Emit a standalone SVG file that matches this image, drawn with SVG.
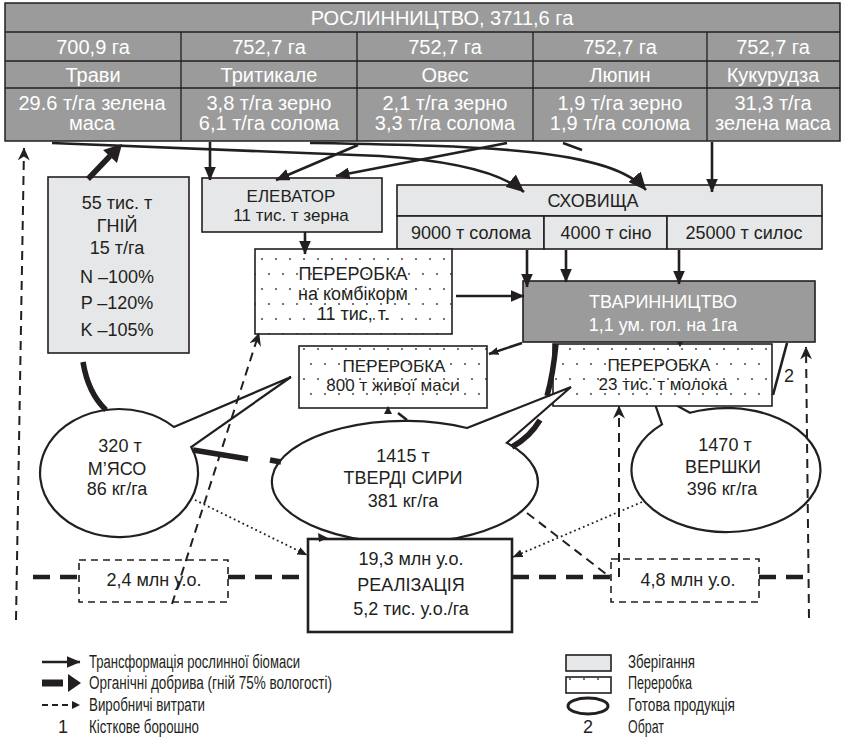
<svg xmlns="http://www.w3.org/2000/svg" width="843" height="744" viewBox="0 0 843 744">
<style>
.tbl{fill:#9b9b9b;stroke:#231f20;stroke-width:1.5}
.tl{fill:none;stroke:#231f20;stroke-width:1.3}
.tt{font-family:"Liberation Sans",Arial,sans-serif;font-size:20px;fill:#fff;text-anchor:middle}
.t{font-family:"Liberation Sans",Arial,sans-serif;font-size:18px;fill:#231f20;text-anchor:middle}
.s{font-size:17px}
.w{fill:#fff}
.store{fill:#e6e7e8;stroke:#231f20;stroke-width:1.6}
.proc{fill:url(#dots);stroke:#231f20;stroke-width:1.6}
.prod{fill:#fff;stroke:#231f20;stroke-width:2.2}
.dark{fill:#9b9b9b;stroke:#231f20;stroke-width:1.6}
.sol{fill:none;stroke:#231f20;stroke-width:2.6}
.thk{fill:none;stroke:#231f20;stroke-width:5.5}
.dsh{fill:none;stroke:#231f20;stroke-width:2;stroke-dasharray:9 6}
.dshT{fill:none;stroke:#231f20;stroke-width:4.5;stroke-dasharray:17 10}
.dot{fill:none;stroke:#231f20;stroke-width:1.8;stroke-dasharray:1.8 3}
.blk{fill:#231f20}
.lg{font-family:"Liberation Sans",Arial,sans-serif;font-size:18px;fill:#231f20}
</style>
<defs>
<pattern id="dots" patternUnits="userSpaceOnUse" width="14" height="30">
<rect width="14" height="30" fill="#fff"/>
<circle cx="3" cy="4" r="1.1" fill="#555"/>
<circle cx="10" cy="19" r="1.1" fill="#555"/>
</pattern>
<marker id="ah" viewBox="0 0 14 12" refX="13.5" refY="6" markerWidth="14" markerHeight="12" markerUnits="userSpaceOnUse" orient="auto"><path d="M0,0 L14,6 L0,12 z" fill="#231f20"/></marker>
<marker id="ahL" viewBox="0 0 18 16" refX="17.5" refY="8" markerWidth="18" markerHeight="16" markerUnits="userSpaceOnUse" orient="auto"><path d="M0,0 L18,8 L0,16 z" fill="#231f20"/></marker>
<marker id="ahD" viewBox="0 0 13 12" refX="12.5" refY="6" markerWidth="13" markerHeight="12" markerUnits="userSpaceOnUse" orient="auto"><path d="M0,0 L13,6 L0,12 L4,6 z" fill="#231f20"/></marker>
<marker id="ahS" viewBox="0 0 10 8" refX="9.5" refY="4" markerWidth="10" markerHeight="8" markerUnits="userSpaceOnUse" orient="auto"><path d="M0,0 L10,4 L0,8 z" fill="#231f20"/></marker>
</defs>

<g id="roslynnytstvo">
<rect class="tbl" x="5" y="3" width="835" height="138"/>
<path class="tl" d="M5,32H840M5,61H840M5,88H840M181,32V141M357,32V141M533,32V141M707,32V141"/>
<text class="tt" x="442" y="25">РОСЛИННИЦТВО, 3711,6 га</text>
<text class="tt" x="93" y="54">700,9 га</text>
<text class="tt" x="269" y="54">752,7 га</text>
<text class="tt" x="445" y="54">752,7 га</text>
<text class="tt" x="620" y="54">752,7 га</text>
<text class="tt" x="773" y="54">752,7 га</text>
<text class="tt" x="93" y="82">Трави</text>
<text class="tt" x="269" y="82">Тритикале</text>
<text class="tt" x="445" y="82">Овес</text>
<text class="tt" x="620" y="82">Люпин</text>
<text class="tt" x="773" y="82">Кукурудза</text>
<text class="tt" x="92" y="110">29.6 т/га зелена</text>
<text class="tt" x="92" y="130">маса</text>
<text class="tt" x="269" y="110">3,8 т/га зерно</text>
<text class="tt" x="269" y="130">6,1 т/га солома</text>
<text class="tt" x="445" y="110">2,1 т/га зерно</text>
<text class="tt" x="445" y="130">3,3 т/га солома</text>
<text class="tt" x="620" y="110">1,9 т/га зерно</text>
<text class="tt" x="620" y="130">1,9 т/га солома</text>
<text class="tt" x="773" y="110">31,3 т/га</text>
<text class="tt" x="773" y="130">зелена маса</text>
</g>

<g id="gnii">
<rect class="store" x="48" y="177" width="141" height="176"/>
<text class="t" x="117" y="209">55 тис. т</text>
<text class="t" x="117" y="232">ГНІЙ</text>
<text class="t" x="117" y="254">15 т/га</text>
<text class="t" x="117" y="283">N –100%</text>
<text class="t" x="117" y="309">P –120%</text>
<text class="t" x="117" y="336">K –105%</text>
</g>

<g id="elevator">
<rect class="store" x="202" y="178" width="180" height="54"/>
<text class="t s" x="291" y="202">ЕЛЕВАТОР</text>
<text class="t s" x="291" y="221">11 тис. т зерна</text>
</g>

<g id="skhovyshcha">
<rect class="store" x="397" y="185" width="425" height="31"/>
<rect class="store" x="397" y="216" width="147" height="33"/>
<rect class="store" x="544" y="216" width="123" height="33"/>
<rect class="store" x="667" y="216" width="155" height="33"/>
<text class="t" x="593" y="207">СХОВИЩА</text>
<text class="t" x="471" y="239">9000 т солома</text>
<text class="t" x="606" y="239">4000 т сіно</text>
<text class="t" x="744" y="239">25000 т силос</text>
</g>

<g id="pererobka-kombikorm">
<rect class="proc" x="255" y="249" width="197" height="85"/>
<text class="t" x="353" y="280">ПЕРЕРОБКА</text>
<text class="t" x="353" y="300">на комбікорм</text>
<text class="t" x="353" y="320">11 тис, т.</text>
</g>

<g id="tvarynnytstvo">
<rect class="dark" x="523" y="281" width="292" height="61"/>
<text class="t w" x="663" y="308">ТВАРИННИЦТВО</text>
<text class="t w" x="663" y="331">1,1 ум. гол. на 1га</text>
</g>

<g id="pererobka-miaso">
<rect class="proc" x="299" y="346" width="188" height="62"/>
<text class="t s" x="394" y="372">ПЕРЕРОБКА</text>
<text class="t s" x="393" y="391">800 т живої маси</text>
</g>

<g id="vershky">
<path class="prod" d="M662,424.4 L655,404 L674,404 L690,412.7 A94.5,62 0 1 1 662,424.4 Z"/>
<text class="t" x="725" y="451">1470 т</text>
<text class="t" x="723" y="473">ВЕРШКИ</text>
<text class="t" x="722" y="495">396 кг/га</text>
</g>

<g id="pererobka-moloko">
<rect class="proc" x="553" y="344" width="219" height="62"/>
<text class="t s" x="659" y="371">ПЕРЕРОБКА</text>
<text class="t s" x="663" y="390">23 тис. т молока</text>
</g>

<g id="miaso">
<path class="prod" d="M173.9,427 L291,377 L191.2,447 A79,64 0 1 1 173.9,427 Z"/>
<text class="t" x="120" y="452">320 т</text>
<text class="t" x="117" y="475">М’ЯСО</text>
<text class="t" x="117" y="495">86 кг/га</text>
</g>

<g id="syry">
<path class="prod" d="M467,428 L571,387 L506.9,442.8 A133,61 0 1 1 467,428 Z"/>
<text class="t" x="403" y="462">1415 т</text>
<text class="t" x="403" y="484">ТВЕРДІ СИРИ</text>
<text class="t" x="403" y="507">381 кг/га</text>
</g>

<g id="realizatsiia">
<rect x="308" y="539" width="204" height="93" fill="#fff" stroke="#231f20" stroke-width="2.6"/>
<text class="t" x="411" y="565">19,3 млн у.о.</text>
<text class="t" x="411" y="591">РЕАЛІЗАЦІЯ</text>
<text class="t" x="411" y="615">5,2 тис. у.о./га</text>
</g>

<g id="vytraty-24">
<rect x="79" y="560" width="149" height="42" fill="#fff" stroke="#231f20" stroke-width="1.6" stroke-dasharray="7 5"/>
<text class="t" x="154" y="586">2,4 млн у.о.</text>
</g>

<g id="vytraty-48">
<rect x="611" y="559" width="148" height="43" fill="#fff" stroke="#231f20" stroke-width="1.6" stroke-dasharray="7 5"/>
<text class="t" x="688" y="586">4,8 млн у.о.</text>
</g>

<g id="connectors">
<path class="sol" d="M210,142V180" marker-end="url(#ah)"/>
<path class="sol" d="M305,232V254" marker-end="url(#ah)"/>
<path class="sol" d="M456,296H524" marker-end="url(#ah)"/>
<path class="sol" d="M527,250V287" marker-end="url(#ah)"/>
<path class="sol" d="M566,250V282" marker-end="url(#ah)"/>
<path class="sol" d="M679,250V284" marker-end="url(#ah)"/>
<path class="sol" d="M712,142V192" marker-end="url(#ah)"/>
<path class="sol" d="M52,143 L380,156 Q490,163 524,192" marker-end="url(#ahL)"/>
<path class="sol" d="M310,143 C480,146 610,148 646,190" marker-end="url(#ahL)"/>
<path class="sol" d="M358,145 L276,180" marker-end="url(#ah)"/>
<path class="sol" d="M507,143 L336,176" marker-end="url(#ah)"/>
<path class="sol" d="M563,143 L582,150" stroke-width="4.5"/>
<path class="sol" d="M522,343 L489,354" stroke-width="2" marker-end="url(#ahS)"/>
<path class="sol" d="M787,343 L773,395" stroke-width="1.6"/>
<text class="t" x="789" y="382">2</text>

<path class="thk" d="M88,179 L110,156"/>
<polygon class="blk" points="122,144 117,163 103,150"/>
<path class="thk" d="M83,362 Q88,393 106,410"/>
<path class="thk" d="M193,450 L248,459"/>
<path class="thk" d="M270,460 L281,462"/>
<path class="thk" d="M556,344 Q553,375 547,396"/>
<path class="thk" d="M540,420 Q530,437 512,447"/>

<path class="dsh" d="M16,620 L24,148" marker-end="url(#ahD)"/>
<path class="dsh" d="M809,618 L806,347" marker-end="url(#ahD)"/>
<path class="dsh" d="M619,577 V406" marker-end="url(#ahD)"/>
<path class="dsh" d="M172,604 L259,333" marker-end="url(#ahD)"/>
<path class="dsh" d="M527,513 L610,577"/>
<path class="dshT" d="M33,577 H79 M228,577 H307 M512,577 H611 M759,577 H812"/>

<path class="dot" d="M195,500 L307,555" marker-end="url(#ahS)"/>
<path class="dot" d="M642,502 L513,557" marker-end="url(#ahS)"/>

<polygon class="blk" points="318,533 328,538 319,542"/>
<polygon class="blk" points="384,414 388,406 392,414"/>
<path class="sol" d="M398,413 L407,420" stroke-width="1.8"/>
<polygon class="blk" points="677,342 683,342 680,347"/>
</g>

<g id="legend">
<path class="sol" d="M42,662 H80" marker-end="url(#ah)"/>
<path d="M42,683 H63" stroke="#231f20" stroke-width="7"/>
<polygon class="blk" points="68,674 81,683 68,692"/>
<path d="M42,705 H70" stroke="#231f20" stroke-width="2" stroke-dasharray="6 4"/>
<polygon class="blk" points="72,701 80,705 72,709"/>
<text class="lg" x="63" y="733" text-anchor="middle">1</text>
<text class="lg" x="89" y="668" textLength="211" lengthAdjust="spacingAndGlyphs">Трансформація рослинної біомаси</text>
<text class="lg" x="89" y="689" textLength="243" lengthAdjust="spacingAndGlyphs">Органічні добрива (гній 75% вологості)</text>
<text class="lg" x="89" y="711" textLength="116" lengthAdjust="spacingAndGlyphs">Виробничі витрати</text>
<text class="lg" x="89" y="733" textLength="110" lengthAdjust="spacingAndGlyphs">Кісткове борошно</text>
<rect class="store" x="566" y="655" width="45" height="16"/>
<rect class="proc" x="566" y="677" width="45" height="16"/>
<ellipse cx="588" cy="706" rx="20" ry="8" fill="#fff" stroke="#231f20" stroke-width="3"/>
<text class="lg" x="588" y="733" text-anchor="middle">2</text>
<text class="lg" x="628" y="668" textLength="67" lengthAdjust="spacingAndGlyphs">Зберігання</text>
<text class="lg" x="628" y="689" textLength="64" lengthAdjust="spacingAndGlyphs">Переробка</text>
<text class="lg" x="628" y="711" textLength="107" lengthAdjust="spacingAndGlyphs">Готова продукція</text>
<text class="lg" x="628" y="733" textLength="36" lengthAdjust="spacingAndGlyphs">Обрат</text>
</g>
</svg>
